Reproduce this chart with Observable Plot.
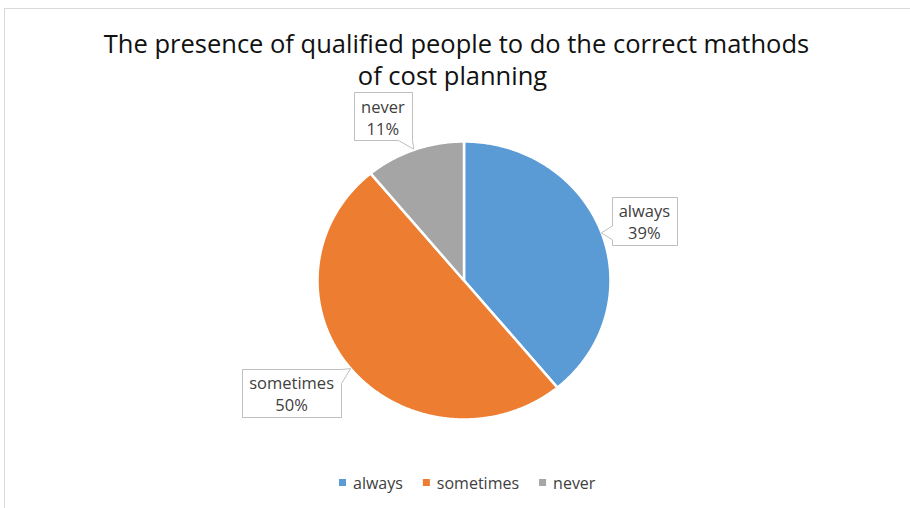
<!DOCTYPE html>
<html><head><meta charset="utf-8">
<script src="https://cdn.jsdelivr.net/npm/d3@7"></script>
<script src="https://cdn.jsdelivr.net/npm/@observablehq/plot@0.6"></script>
<style>
html,body{margin:0;padding:0;background:#fff;}
#chart{position:relative;width:910px;height:508px;overflow:hidden;}
</style></head><body><div id="chart"></div>
<script>
// ---- data ----
const categories = ["always", "sometimes", "never"];
const values = [39, 50, 11];
const pctLabels = ["39%", "50%", "11%"];
const colors = ["#5B9BD5", "#ED7D31", "#A5A5A5"];
const titleLines = ["The presence of qualified people to do the correct mathods", "of cost planning"];

// ---- layout (not data) ----
const FONT = "Open Sans";
const labelOffset = {always: [43, -12], never: [-31, -33], sometimes: [-59, 24]};
const boxH = 48, boxPad = 7;

// slices from data via d3.pie (angle 0 at 12 o'clock, clockwise)
const pie = d3.pie().sort(null).value(d => d.value)(categories.map((c, i) => ({name: c, value: values[i], pct: pctLabels[i]})));
const pts = [];
for (const s of pie) {
  pts.push({name: s.data.name, x: 0, y: 0});
  const n = Math.max(4, Math.ceil((s.endAngle - s.startAngle) / (Math.PI / 360)));
  for (let k = 0; k <= n; k++) {
    const a = s.startAngle + (s.endAngle - s.startAngle) * k / n;
    pts.push({name: s.data.name, x: Math.sin(a), y: Math.cos(a)});
  }
}

const plot = Plot.plot({
  width: 910, height: 508, margin: 0,
  x: {domain: [-1, 1], range: [317, 610], axis: null},
  y: {domain: [-1, 1], range: [419, 141], axis: null},
  color: {domain: categories, range: colors},
  style: {fontFamily: FONT, background: "#fff", overflow: "visible"},
  marks: [
    Plot.line(pts, {x: "x", y: "y", z: "name", fill: "name", stroke: "white", strokeWidth: 2.5, curve: "linear-closed"}),
    Plot.text([titleLines[0]], {text: d => d, frameAnchor: "top", dx: 1, dy: 44, fontSize: 25.5, fill: "#111", lineAnchor: "middle"}),
    Plot.text([titleLines[1]], {text: d => d, frameAnchor: "top", dx: -3, dy: 76, fontSize: 25.5, fill: "#111", lineAnchor: "middle"})
  ]
});
document.getElementById("chart").appendChild(plot);

const svg = d3.select(plot);
const xs = plot.scale("x"), ys = plot.scale("y"), cs = plot.scale("color");

// chart area border
svg.insert("rect", ":first-child").attr("x", 4.5).attr("y", 8.5).attr("width", 960).attr("height", 560)
  .attr("fill", "none").attr("stroke", "#d9d9d9");

// callout labels
const gL = svg.append("g").attr("font-family", FONT).attr("font-size", 16.5).attr("fill", "#404040");
for (const s of pie) {
  const mid = (s.startAngle + s.endAngle) / 2;
  const tx = xs.apply(Math.sin(mid)), ty = ys.apply(Math.cos(mid));
  const [ox, oy] = labelOffset[s.data.name];
  const cx = tx + ox, cy = ty + oy;
  const g = gL.append("g");
  const path = g.append("path").attr("fill", "white").attr("stroke", "#bfbfbf").attr("stroke-width", 1);
  const t1 = g.append("text").attr("x", cx).attr("y", cy - 10).attr("text-anchor", "middle").attr("dominant-baseline", "central").text(s.data.name);
  const t2 = g.append("text").attr("x", cx).attr("y", cy + 12).attr("text-anchor", "middle").attr("dominant-baseline", "central").text(s.data.pct);
  const w = Math.max(t1.node().getComputedTextLength(), t2.node().getComputedTextLength()) + 2 * boxPad;
  const L = Math.round(cx - w / 2) + 0.5, R = Math.round(cx + w / 2) + 0.5, T = Math.round(cy - boxH / 2) + 0.5, B = Math.round(cy + boxH / 2) + 0.5;
  const ex = {left: L - tx, right: tx - R, top: T - ty, bottom: ty - B};
  const side = Object.entries(ex).sort((a, b) => b[1] - a[1])[0][0];
  const ww = 14;
  const clamp = (v, a, b) => Math.max(a, Math.min(b, v));
  let d;
  if (side === "left") {
    const y0 = clamp(ty - ww / 2, T, B - ww);
    d = `M${L},${T}H${R}V${B}H${L}V${y0 + ww}L${tx},${ty}L${L},${y0}Z`;
  } else if (side === "right") {
    const y0 = clamp(ty - ww / 2, T, B - ww);
    d = `M${L},${T}H${R}V${y0}L${tx},${ty}L${R},${y0 + ww}V${B}H${L}Z`;
  } else if (side === "bottom") {
    const x0 = clamp(tx - ww / 2, L, R - ww);
    d = `M${L},${T}H${R}V${B}H${x0 + ww}L${tx},${ty}L${x0},${B}H${L}Z`;
  } else {
    const x0 = clamp(tx - ww / 2, L, R - ww);
    d = `M${L},${T}H${x0}L${tx},${ty}L${x0 + ww},${T}H${R}V${B}H${L}Z`;
  }
  path.attr("d", d);
}

// legend
const gLeg = svg.append("g").attr("font-family", FONT).attr("font-size", 16).attr("fill", "#404040").attr("text-anchor", "start");
let xpos = 0;
for (const c of categories) {
  const gi = gLeg.append("g");
  gi.append("rect").attr("x", xpos).attr("y", 479).attr("width", 7).attr("height", 7).attr("fill", cs.apply(c));
  const t = gi.append("text").attr("x", xpos + 14).attr("y", 483).attr("text-anchor", "start").attr("dominant-baseline", "central").text(c);
  xpos += 14 + t.node().getComputedTextLength() + 20;
}
const totalW = xpos - 20;
gLeg.attr("transform", `translate(${Math.round(467 - totalW / 2)},0)`);
</script></body></html>
